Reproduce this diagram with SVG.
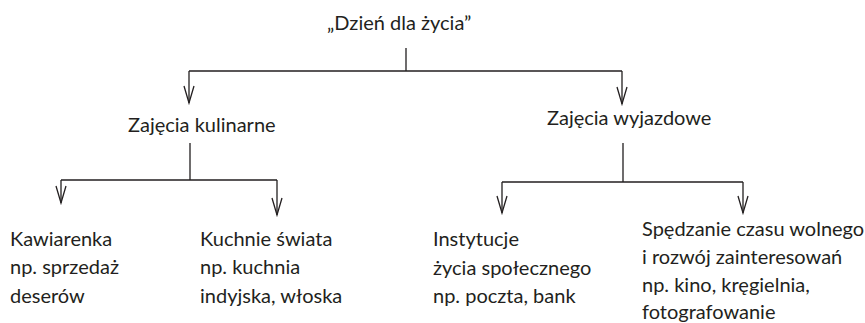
<svg xmlns="http://www.w3.org/2000/svg" width="865" height="323" viewBox="0 0 865 323">
<style>
text{font-family:Lato,"Noto Sans",sans-serif;font-size:20px;fill:#231f20}
.c path{fill:none;stroke:#231f20;stroke-width:1.3}
</style>
<defs>
<marker id="v" markerUnits="userSpaceOnUse" markerWidth="20" markerHeight="14" viewBox="-18 -6 20 12" refX="0" refY="0" orient="auto">
<path d="M-17,-5 L0,0 L-17,5" fill="none" stroke="#231f20" stroke-width="1.3"/>
</marker>
</defs>
<rect width="865" height="323" fill="#fff"/>
<g class="c" id="connectors">
<path d="M406,48 V71 M189,71 H622 M190,143 V180 M61,180 H277 M623,143 V182 M502,182 H743"/>
<path d="M189,71 V103" marker-end="url(#v)"/>
<path d="M622,71 V104" marker-end="url(#v)"/>
<path d="M61,180 V203" marker-end="url(#v)"/>
<path d="M277,180 V215" marker-end="url(#v)"/>
<path d="M502,182 V213" marker-end="url(#v)"/>
<path d="M743,182 V213" marker-end="url(#v)"/>
</g>
<g id="root"><text x="327" y="30">„Dzień dla życia”</text></g>
<g id="kulinarne"><text x="128" y="132">Zajęcia kulinarne</text></g>
<g id="wyjazdowe"><text x="547" y="125">Zajęcia wyjazdowe</text></g>
<g id="kawiarenka"><text x="10" y="246">Kawiarenka</text><text x="10" y="274">np. sprzedaż</text><text x="10" y="303">deserów</text></g>
<g id="kuchnie"><text x="200" y="246">Kuchnie świata</text><text x="200" y="274">np. kuchnia</text><text x="200" y="303">indyjska, włoska</text></g>
<g id="instytucje"><text x="433" y="246">Instytucje</text><text x="433" y="275">życia społecznego</text><text x="433" y="303">np. poczta, bank</text></g>
<g id="czas"><text x="642" y="236">Spędzanie czasu wolnego</text><text x="642" y="264">i rozwój zainteresowań</text><text x="642" y="292">np. kino, kręgielnia,</text><text x="642" y="319">fotografowanie</text></g>
</svg>
